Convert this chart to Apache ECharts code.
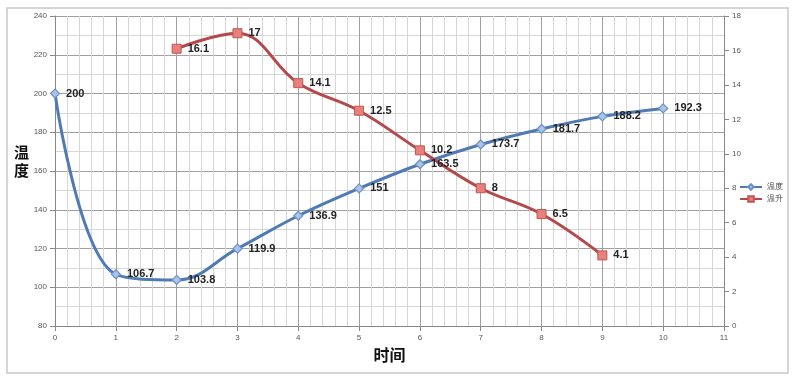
<!DOCTYPE html>
<html><head><meta charset="utf-8">
<script src="https://cdn.jsdelivr.net/npm/echarts@6/dist/echarts.min.js"></script>
<style>html,body{margin:0;padding:0;background:#fff}#c{width:800px;height:378px}</style>
</head><body><div id="c"></div>
<script>
const tempX = [0,1,2,3,4,5,6,7,8,9,10];
const tempVals = [200,106.7,103.8,119.9,136.9,151,163.5,173.7,181.7,188.2,192.3];
const riseX = [2,3,4,5,6,7,8,9];
const riseVals = [16.1,17,14.1,12.5,10.2,8,6.5,4.1];
const seriesNames = ['温度','温升'];

const chart = echarts.init(document.getElementById('c'));
const lbl = {show:true, position:'right', distance:6, color:'#222', fontSize:11, fontWeight:'bold', fontFamily:'Liberation Sans, Arial'};
const axisLbl = {color:'#555', fontSize:8, fontFamily:'Liberation Sans, Arial'};
chart.setOption({
  animation:false,
  graphic:[
    {type:'rect', shape:{x:7,y:8,width:781,height:365}, style:{fill:'none', stroke:'#c8c8c8', lineWidth:1.5}, silent:true},
    {type:'text', left:14, top:143, style:{text:'温\n度', font:'bold 15px "Noto Sans CJK SC"', fill:'#111', lineHeight:18}}
  ],
  legend:{
    orient:'vertical', left:734, top:178, itemWidth:22, itemHeight:7, itemGap:4,
    textStyle:{fontSize:8, color:'#444'},
    data:seriesNames
  },
  grid:{left:55, right:76, top:16, bottom:52},
  xAxis:{
    type:'value', min:0, max:11, interval:1,
    name:'时间', nameLocation:'middle', nameGap:15,
    nameTextStyle:{fontSize:16, fontWeight:'bold', color:'#111', fontFamily:'Noto Sans CJK SC'},
    axisLine:{lineStyle:{color:'#888'}}, axisTick:{show:true, lineStyle:{color:'#888'}},
    axisLabel:axisLbl,
    splitLine:{show:true, lineStyle:{color:'#a0a0a0', width:1}},
    minorTick:{show:false, splitNumber:5},
    minorSplitLine:{show:true, lineStyle:{color:'#d6d6d6', width:1}}
  },
  yAxis:[{
    type:'value', min:80, max:240, interval:20,
    axisLine:{show:true, lineStyle:{color:'#888'}}, axisTick:{show:true, lineStyle:{color:'#888'}},
    axisLabel:axisLbl,
    splitLine:{show:true, lineStyle:{color:'#a0a0a0', width:1}},
    minorTick:{show:false, splitNumber:2},
    minorSplitLine:{show:true, lineStyle:{color:'#d6d6d6', width:1}}
  },{
    type:'value', min:0, max:18, interval:2, position:'right',
    axisLine:{show:true, lineStyle:{color:'#888'}}, axisTick:{show:true, lineStyle:{color:'#888'}},
    axisLabel:axisLbl,
    splitLine:{show:false}
  }],
  series:[{
    name:seriesNames[0], type:'line', smooth:0.4, yAxisIndex:0,
    data:tempX.map((x,i)=>[x,tempVals[i]]),
    symbol:'diamond', symbolSize:9,
    lineStyle:{color:'#4f7ab3', width:3},
    itemStyle:{color:'#a9c4e6', borderColor:'#6a92c8', borderWidth:1.2},
    label:lbl, z:3
  },{
    name:seriesNames[1], type:'line', smooth:0.4, yAxisIndex:1,
    data:riseX.map((x,i)=>[x,riseVals[i]]),
    symbol:'rect', symbolSize:9,
    lineStyle:{color:'#b5484a', width:3},
    itemStyle:{color:'#e8807c', borderColor:'#c25552', borderWidth:1},
    label:lbl, z:3
  }]
});
</script></body></html>
